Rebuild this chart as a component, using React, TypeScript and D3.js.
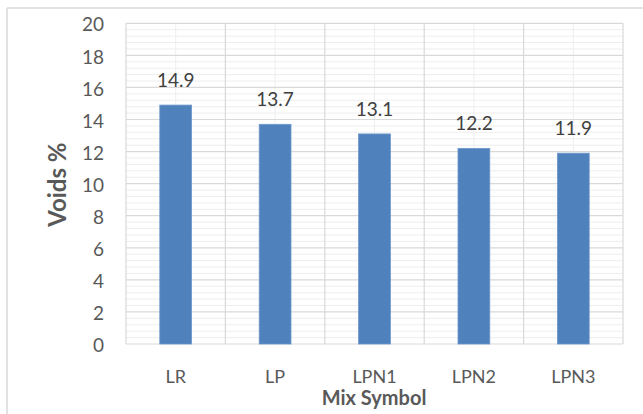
import React from "react";
import * as d3 from "d3";

const categories = ["LR", "LP", "LPN1", "LPN2", "LPN3"];
const voids = [14.9, 13.7, 13.1, 12.2, 11.9];
const yTicks = [0, 2, 4, 6, 8, 10, 12, 14, 16, 18, 20];

const W = 643;
const H = 414;
const plot = { left: 126, right: 623, top: 23.3, bottom: 344 };
const FONT = "Lato, 'Open Sans', sans-serif";

export default function App() {
  const y = d3.scaleLinear().domain([0, 20]).range([plot.bottom, plot.top]);
  const cells = d3
    .scaleBand<string>()
    .domain(categories)
    .range([plot.left, plot.right])
    .padding(0);
  const x = d3
    .scaleBand<string>()
    .domain(categories)
    .range([plot.left, plot.right])
    .paddingInner(0.68)
    .paddingOuter(0.34);

  const minorTicks = d3.range(0, 20.0001, 0.4).filter((v) => Math.abs(v / 2 - Math.round(v / 2)) > 1e-6);
  const step = cells.step();

  return (
    <svg
      width={W}
      height={H}
      style={{ position: "absolute", left: 0, top: 0, background: "#fff" }}
    >
      {/* chart frame (top and left edges) */}
      <line x1={7} x2={W} y1={8} y2={8} stroke="#d9d9d9" strokeWidth={1.5} />
      <line x1={7} x2={7} y1={8} y2={H} stroke="#d9d9d9" strokeWidth={1.5} />

      {/* minor grid */}
      {minorTicks.map((v) => (
        <line key={"mn" + v} x1={plot.left} x2={plot.right} y1={y(v)} y2={y(v)} stroke="#eeeeee" strokeWidth={1} />
      ))}
      {categories.map((c) => (
        <line
          key={"mv" + c}
          x1={cells(c)! + step / 2}
          x2={cells(c)! + step / 2}
          y1={plot.top}
          y2={plot.bottom}
          stroke="#eeeeee"
          strokeWidth={1}
        />
      ))}

      {/* major grid */}
      {yTicks.map((v) => (
        <line key={"mj" + v} x1={plot.left} x2={plot.right} y1={y(v)} y2={y(v)} stroke="#d9d9d9" strokeWidth={1.2} />
      ))}
      {[...categories.map((c) => cells(c)!), plot.right].map((px, i) => (
        <line key={"vj" + i} x1={px} x2={px} y1={plot.top} y2={plot.bottom} stroke="#d9d9d9" strokeWidth={1.2} />
      ))}

      {/* bars */}
      {categories.map((c, i) => (
        <rect
          key={"b" + c}
          x={x(c)}
          y={y(voids[i])}
          width={x.bandwidth()}
          height={y(0) - y(voids[i])}
          fill="#4f81bd"
          stroke="#6d97cb"
          strokeWidth={0.8}
        />
      ))}

      {/* value labels */}
      {categories.map((c, i) => (
        <text
          key={"v" + c}
          x={x(c)! + x.bandwidth() / 2}
          y={y(voids[i]) - 18}
          textAnchor="middle"
          fontFamily={FONT}
          fontSize={19}
          fill="#404040"
        >
          {voids[i]}
        </text>
      ))}

      {/* y tick labels */}
      {yTicks.map((v) => (
        <text
          key={"yt" + v}
          x={104}
          y={y(v) + 1.5}
          dy="0.35em"
          textAnchor="end"
          fontFamily={FONT}
          fontSize={19}
          fill="#595959"
        >
          {v}
        </text>
      ))}

      {/* x tick labels */}
      {categories.map((c) => (
        <text
          key={"xt" + c}
          x={cells(c)! + step / 2}
          y={383}
          textAnchor="middle"
          fontFamily={FONT}
          fontSize={18}
          fill="#595959"
        >
          {c}
        </text>
      ))}

      {/* axis titles */}
      <text
        x={374}
        y={405}
        textAnchor="middle"
        fontFamily={FONT}
        fontSize={20}
        fontWeight="bold"
        fill="#595959"
      >
        Mix Symbol
      </text>
      <text
        transform={`translate(66, ${(plot.top + plot.bottom) / 2 + 1}) rotate(-90)`}
        textAnchor="middle"
        fontFamily={FONT}
        fontSize={24}
        fontWeight="bold"
        fill="#595959"
      >
        Voids %
      </text>
    </svg>
  );
}
